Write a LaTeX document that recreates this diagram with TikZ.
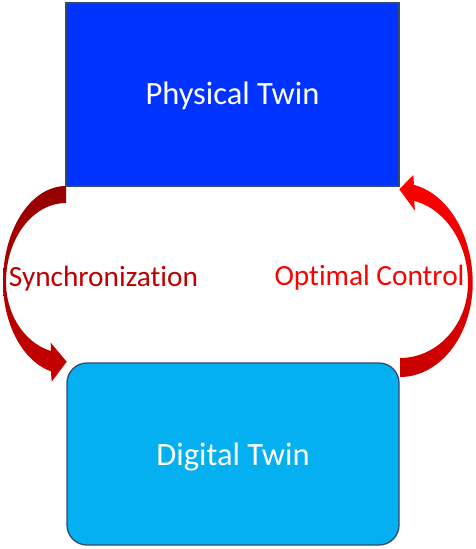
\documentclass[tikz,border=0pt]{standalone}
\usepackage{fontspec}
\setmainfont{Carlito}[Ligatures=NoCommon]
\begin{document}
\begin{tikzpicture}[x=1pt,y=-1pt,
  boxline/.style={draw=boxedge,line width=1.3pt},
  twinlabel/.style={text=white,font=\fontsize{32.5}{36}\selectfont,text depth=2pt},
  arrowlabel/.style={font=\fontsize{29.3}{33}\selectfont,anchor=base}]
\definecolor{physblue}{HTML}{0033FF}
\definecolor{digiblue}{HTML}{05B0F0}
\definecolor{boxedge}{HTML}{2F4A75}
\definecolor{syncdark}{HTML}{960000}
\definecolor{syncmid}{HTML}{C80000}
\definecolor{optbright}{HTML}{FF0000}
\definecolor{optdark}{HTML}{C80000}
\definecolor{synctext}{HTML}{C00000}
\definecolor{opttext}{HTML}{FF0000}
\useasboundingbox (0,0) rectangle (476,549);
\fill[white] (0,0) rectangle (476,549);
% boxes
\node[boxline,fill=physblue,minimum width=333pt,minimum height=183pt,inner sep=0pt,twinlabel,text height=22pt] (phys) at (232.5,94.5) {Physical Twin};
\node[boxline,fill=digiblue,rounded corners=20pt,minimum width=332pt,minimum height=182pt,inner sep=0pt,twinlabel,text height=25.4pt] (digi) at (233,454) {Digital Twin};
% left arrow (Synchronization)
\shade[top color=syncdark,bottom color=syncmid]
  (66,203) -- (66,186)
  -- plot[domain=270:180,samples=40] ({66+63*cos(\x)},{282+96*sin(\x)})
  -- plot[domain=180:103.8,samples=40] ({66+63*cos(\x)},{282+92*sin(\x)})
  -- (51.7,381.7) -- (66.7,361.7) -- (50.7,342.7) -- (51,351)
  -- plot[domain=104.5:180,samples=40] ({66+60*cos(\x)},{282+71.3*sin(\x)})
  -- plot[domain=180:270,samples=40] ({66+60*cos(\x)},{282+79*sin(\x)})
  -- cycle;
% right arrow (Optimal Control)
\shade[top color=optbright,bottom color=optdark]
  (400,377) -- (400,358)
  -- plot[domain=90:0,samples=40] ({400+68*cos(\x)},{283+75*sin(\x)})
  -- plot[domain=0:-78,samples=40] ({400+68*cos(\x)},{283+84*sin(\x)})
  -- (415,210.7) -- (399.3,189.3) -- (413.3,175) -- (414,184.9)
  -- plot[domain=-78.9:0,samples=40] ({400+72.7*cos(\x)},{283+100*sin(\x)})
  -- plot[domain=0:90,samples=40] ({400+72.7*cos(\x)},{283+94*sin(\x)})
  -- cycle;
% labels
\node[arrowlabel,text=synctext] (sync) at (103.5,286.7) {Synchronization};
\node[arrowlabel,text=opttext] (opt) at (369.5,285.7) {Optimal Control};
\end{tikzpicture}
\end{document}
